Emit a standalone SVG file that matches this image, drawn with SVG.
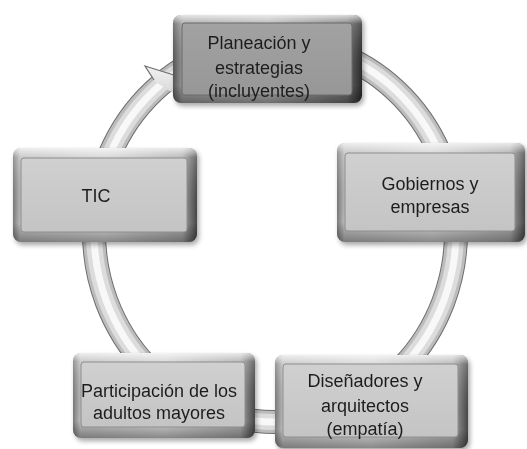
<svg xmlns="http://www.w3.org/2000/svg" width="527" height="449" viewBox="0 0 527 449">
<defs>
<style>
.lbl{font-family:"Liberation Sans",Arial,sans-serif;font-size:18px;fill:#1e1e1e;text-anchor:middle}
.ov{fill:url(#frameV)}
.faceL{fill:url(#faceLg);stroke:#8e8e8e;stroke-width:1}
.faceD{fill:url(#faceDg);stroke:#6a6a6a;stroke-width:1}
</style>
<linearGradient id="frameH" x1="0" y1="0" x2="1" y2="0">
<stop offset="0" stop-color="#7a7a7a"/><stop offset="0.04" stop-color="#bdbdbd"/>
<stop offset="0.5" stop-color="#d2d2d2"/><stop offset="0.92" stop-color="#a9a9a9"/><stop offset="1" stop-color="#474747"/>
</linearGradient>
<linearGradient id="frameHD" x1="0" y1="0" x2="1" y2="0">
<stop offset="0" stop-color="#555"/><stop offset="0.05" stop-color="#9a9a9a"/>
<stop offset="0.5" stop-color="#acacac"/><stop offset="0.92" stop-color="#6d6d6d"/><stop offset="1" stop-color="#2a2a2a"/>
</linearGradient>
<linearGradient id="frameV" x1="0" y1="0" x2="0" y2="1">
<stop offset="0" stop-color="#fff" stop-opacity="0.75"/><stop offset="0.1" stop-color="#fff" stop-opacity="0.2"/>
<stop offset="0.8" stop-color="#000" stop-opacity="0"/><stop offset="1" stop-color="#000" stop-opacity="0.35"/>
</linearGradient>
<linearGradient id="faceLg" x1="0" y1="0" x2="0" y2="1">
<stop offset="0" stop-color="#d0d0d0"/><stop offset="1" stop-color="#c4c4c4"/>
</linearGradient>
<linearGradient id="faceDg" x1="0" y1="0" x2="0" y2="1">
<stop offset="0" stop-color="#a2a2a2"/><stop offset="1" stop-color="#979797"/>
</linearGradient>
<linearGradient id="headG" x1="0" y1="0" x2="0" y2="1">
<stop offset="0" stop-color="#f2f2f2"/><stop offset="1" stop-color="#d6d6d6"/>
</linearGradient>
<filter id="sh" x="-10%" y="-10%" width="130%" height="140%">
<feGaussianBlur in="SourceAlpha" stdDeviation="2.5"/>
<feOffset dx="2" dy="3"/>
<feComponentTransfer><feFuncA type="linear" slope="0.35"/></feComponentTransfer>
<feMerge><feMergeNode/><feMergeNode in="SourceGraphic"/></feMerge>
</filter>
</defs>
<rect width="527" height="449" fill="#fff"/>

<g id="connectors" fill="none">
<ellipse cx="275" cy="232" rx="181" ry="190" stroke="#6e6e6e" stroke-width="24"/>
<ellipse cx="275" cy="232" rx="181" ry="190" stroke="#bcbcbc" stroke-width="22"/>
<ellipse cx="275" cy="232" rx="181" ry="190" stroke="#dcdcdc" stroke-width="16"/>
<ellipse cx="275" cy="232" rx="181" ry="190" stroke="#f8f8f8" stroke-width="7"/>
<polygon points="145,66 196,82 178,96 154,81" fill="url(#headG)"/>
<polyline points="154,80 145,66 196,82" stroke="#6e6e6e" stroke-width="1.2"/>
</g>

<g id="node-planeacion" transform="translate(173,15)" filter="url(#sh)">
<rect width="189" height="88" rx="8" fill="url(#frameHD)"/>
<rect class="ov" width="189" height="88" rx="8"/>
<rect class="faceD" x="9" y="8" width="170" height="72" rx="3"/>
<text class="lbl" x="86" y="34">Planeación y</text>
<text class="lbl" x="86" y="59">estrategias</text>
<text class="lbl" x="86" y="82">(incluyentes)</text>
</g>

<g id="node-gobiernos" transform="translate(337,143)" filter="url(#sh)">
<rect width="188" height="99" rx="8" fill="url(#frameH)"/>
<rect class="ov" width="188" height="99" rx="8"/>
<rect class="faceL" x="8" y="10" width="170" height="78" rx="3"/>
<text class="lbl" x="93" y="47">Gobiernos y</text>
<text class="lbl" x="93" y="70">empresas</text>
</g>

<g id="node-tic" transform="translate(13,148)" filter="url(#sh)">
<rect width="184" height="94" rx="8" fill="url(#frameH)"/>
<rect class="ov" width="184" height="94" rx="8"/>
<rect class="faceL" x="8" y="10" width="166" height="74" rx="3"/>
<text class="lbl" x="83" y="54">TIC</text>
</g>

<g id="node-participacion" transform="translate(73,353)" filter="url(#sh)">
<rect width="182" height="85" rx="8" fill="url(#frameH)"/>
<rect class="ov" width="182" height="85" rx="8"/>
<rect class="faceL" x="8" y="9" width="164" height="65" rx="3"/>
<text class="lbl" x="86" y="44">Participación de los</text>
<text class="lbl" x="86" y="66">adultos mayores</text>
</g>

<g id="node-disenadores" transform="translate(275,355)" filter="url(#sh)">
<rect width="193" height="93" rx="8" fill="url(#frameH)"/>
<rect class="ov" width="193" height="93" rx="8"/>
<rect class="faceL" x="8" y="9" width="175" height="73" rx="3"/>
<text class="lbl" x="90" y="32">Diseñadores y</text>
<text class="lbl" x="90" y="57">arquitectos</text>
<text class="lbl" x="90" y="80">(empatía)</text>
</g>
</svg>
